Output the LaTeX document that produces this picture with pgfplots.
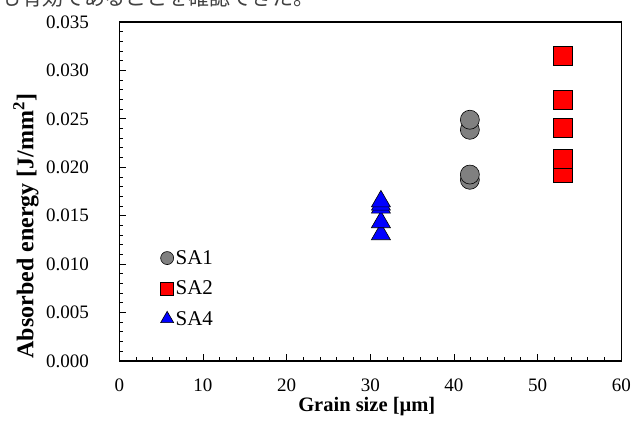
\documentclass[border=0pt]{standalone}
\usepackage{fontspec}
\setmainfont{Liberation Serif}
\newfontfamily\cjk{Noto Sans CJK JP}
\usepackage{pgfplots}
\pgfplotsset{compat=1.18}

\definecolor{sagray}{RGB}{128,128,128}
\definecolor{sared}{RGB}{255,0,0}
\definecolor{sablue}{RGB}{0,0,255}

\begin{document}
\begin{tikzpicture}
\begin{axis}[
    scale only axis,
    width=502bp, height=339bp,
    xmin=0, xmax=60, ymin=0, ymax=0.035,
    xtick={0,10,20,30,40,50,60},
    ytick={0,0.005,0.01,0.015,0.02,0.025,0.03,0.035},
    minor x tick num=4, minor y tick num=4,
    xtick pos=left, ytick pos=left,
    tick align=inside,
    major tick length=7bp, minor tick length=4bp,
    tick style={black, line width=0.9bp},
    axis line style={line width=1.5bp},
    scaled y ticks=false,
    /pgf/number format/assume math mode=true,
    tick label style={font=\fontsize{19bp}{22bp}\selectfont},
    yticklabel style={/pgf/number format/fixed,
        /pgf/number format/fixed zerofill,
        /pgf/number format/precision=3, xshift=-27bp},
    xticklabel style={yshift=-14bp},
    xlabel={Grain size [µm]},
    ylabel={Absorbed energy [J/mm\textsuperscript{2}]},
    xlabel style={font=\fontsize{20.5bp}{24bp}\selectfont\bfseries,
        at={(axis description cs:0.493,-0.133)}, anchor=center},
    ylabel style={font=\fontsize{24bp}{28bp}\selectfont\bfseries,
        at={(axis description cs:-0.186,0.398)}, anchor=center},
    legend style={at={(axis description cs:0.082,0.214)}, anchor=west,
        draw=none, fill=none, inner sep=0pt, row sep=11bp,
        font=\fontsize{21bp}{24bp}\selectfont},
    legend cell align=left,
    every legend image post/.append style={mark size=6.5bp},
]
\addplot[only marks, mark=*, mark size=9.5bp,
    mark options={fill=sagray, draw=black, line width=0.6bp}]
    coordinates {(41.9,0.01871) (41.9,0.01925) (41.9,0.02387) (41.9,0.02491)};
\addlegendentry{SA1}
\addplot[only marks, mark=square*, mark size=9.5bp,
    mark options={fill=sared, draw=black, line width=0.6bp}]
    coordinates {(53,0.01941) (53,0.02089) (53,0.02407) (53,0.02698) (53,0.03156)};
\addlegendentry{SA2}
\addplot[only marks, mark=triangle*, mark size=11bp,
    mark options={fill=sablue, draw=black, line width=0.6bp},
    legend image post style={mark size=7.5bp}]
    coordinates {(31.27,0.01309) (31.27,0.01433) (31.27,0.01583) (31.27,0.01614) (31.27,0.01648)};
\addlegendentry{SA4}
\end{axis}
% cropped line of the surrounding page text
\node[overlay, anchor=base west, inner sep=0pt, text=black!75,
    font=\cjk\fontsize{21bp}{21bp}\selectfont] at (-119.3bp,355bp)
    {も有効であることを確認できた。};
\pgfresetboundingbox
\useasboundingbox (-119.3bp,-69bp) rectangle (514.7bp,361bp);
\end{tikzpicture}
\end{document}
